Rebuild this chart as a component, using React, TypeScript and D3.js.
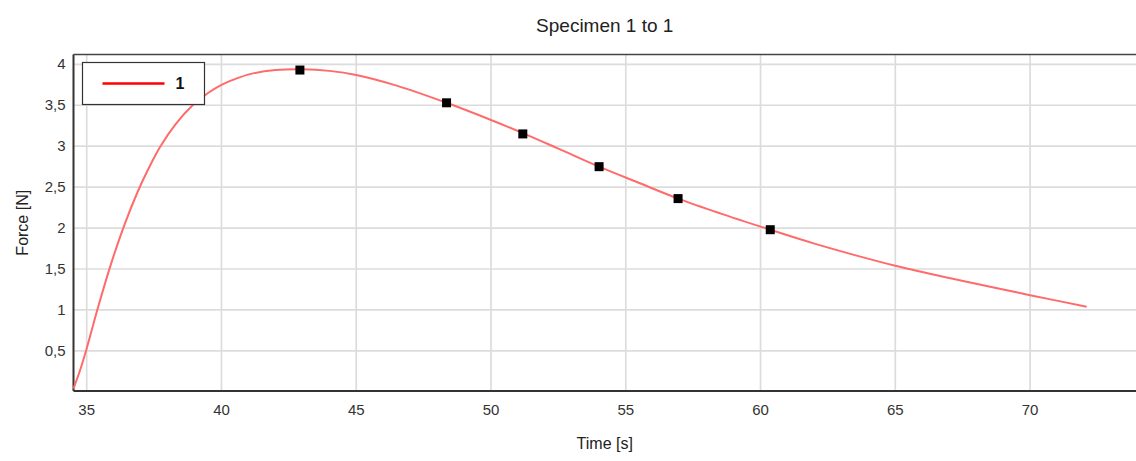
import { useEffect, useRef } from "react";
import * as d3 from "d3";

// measured series (time in s, force in N)
const timeValues = [
  34.51, 34.75, 35.0, 35.41, 35.9, 36.4, 36.9, 37.3, 37.72, 38.3, 38.93, 39.5,
  40.0, 40.5, 41.06, 42.0, 43.0, 44.0, 45.0, 46.5, 48.35, 50.0, 51.18, 52.5,
  54.01, 55.5, 56.94, 58.5, 60.36, 62.0, 63.5, 65.0, 67.0, 69.0, 70.0, 72.1,
];
const forceValues = [
  0.04, 0.26, 0.53, 1.02, 1.56, 2.04, 2.45, 2.73, 2.99, 3.27, 3.5, 3.65,
  3.75, 3.82, 3.88, 3.93, 3.94, 3.92, 3.87, 3.74, 3.53, 3.32, 3.16, 2.97,
  2.75, 2.55, 2.36, 2.18, 1.98, 1.81, 1.67, 1.54, 1.39, 1.25, 1.18, 1.04,
];

// black square markers
const markerTimes = [42.91, 48.35, 51.18, 54.01, 56.94, 60.36];
const markerForces = [3.93, 3.53, 3.15, 2.75, 2.36, 1.98];

const xTicks = [35, 40, 45, 50, 55, 60, 65, 70];
const yTicks = [0.5, 1, 1.5, 2, 2.5, 3, 3.5, 4];
const seriesName = "1";

export default function App() {
  const ref = useRef<SVGSVGElement>(null);

  const width = 1136;
  const height = 461;
  const margin = { top: 54.5, right: 0, bottom: 70, left: 73.5 };
  const innerWidth = width - margin.left - margin.right;
  const innerHeight = height - margin.top - margin.bottom;

  useEffect(() => {
    const svg = d3.select(ref.current);
    svg.selectAll("*").remove();

    const font = "'Liberation Sans', Arial, sans-serif";

    const x = d3.scaleLinear().domain([34.51, 73.93]).range([0, innerWidth]);
    const y = d3.scaleLinear().domain([0.01, 4.12]).range([innerHeight, 0]);

    const g = svg.append("g").attr("transform", `translate(${margin.left}, ${margin.top})`);

    // grid
    g.append("g")
      .selectAll("line")
      .data(xTicks)
      .join("line")
      .attr("x1", d => x(d))
      .attr("x2", d => x(d))
      .attr("y1", 0)
      .attr("y2", innerHeight)
      .attr("stroke", "#dcdcdc")
      .attr("stroke-width", 1.7);
    g.append("g")
      .selectAll("line")
      .data(yTicks)
      .join("line")
      .attr("x1", 0)
      .attr("x2", innerWidth)
      .attr("y1", d => y(d))
      .attr("y2", d => y(d))
      .attr("stroke", "#dcdcdc")
      .attr("stroke-width", 1.7);

    // frame
    g.append("line")
      .attr("x1", 0).attr("x2", innerWidth).attr("y1", 0).attr("y2", 0)
      .attr("stroke", "#444").attr("stroke-width", 1.5);
    g.append("line")
      .attr("x1", 0).attr("x2", innerWidth).attr("y1", innerHeight).attr("y2", innerHeight)
      .attr("stroke", "#333").attr("stroke-width", 2);
    g.append("line")
      .attr("x1", 0).attr("x2", 0).attr("y1", 0).attr("y2", innerHeight)
      .attr("stroke", "#333").attr("stroke-width", 2);

    // tick labels
    g.append("g")
      .selectAll("text")
      .data(xTicks)
      .join("text")
      .attr("x", d => x(d))
      .attr("y", innerHeight + 24)
      .attr("text-anchor", "middle")
      .style("font-family", font)
      .style("font-size", "15px")
      .attr("fill", "#333")
      .text(d => String(d));
    g.append("g")
      .selectAll("text")
      .data(yTicks)
      .join("text")
      .attr("x", -8)
      .attr("y", d => y(d) + 5)
      .attr("text-anchor", "end")
      .style("font-family", font)
      .style("font-size", "15px")
      .attr("fill", "#333")
      .text(d => String(d).replace(".", ","));

    // series line
    const data = timeValues.map((t, i) => ({ t, f: forceValues[i] }));
    const line = d3.line<{ t: number; f: number }>()
      .x(d => x(d.t))
      .y(d => y(d.f))
      .curve(d3.curveCatmullRom.alpha(0.5));
    g.append("path")
      .datum(data)
      .attr("d", line)
      .attr("fill", "none")
      .attr("stroke", "#ff6b6b")
      .attr("stroke-width", 2);

    // markers
    const markers = markerTimes.map((t, i) => ({ t, f: markerForces[i] }));
    g.append("g")
      .selectAll("rect")
      .data(markers)
      .join("rect")
      .attr("x", d => x(d.t) - 4.5)
      .attr("y", d => y(d.f) - 4.5)
      .attr("width", 9)
      .attr("height", 9)
      .attr("fill", "#000");

    // legend
    const legend = g.append("g").attr("transform", "translate(9, 8)");
    legend.append("rect")
      .attr("width", 122)
      .attr("height", 42)
      .attr("fill", "#fff")
      .attr("stroke", "#333")
      .attr("stroke-width", 1.2);
    legend.append("line")
      .attr("x1", 20).attr("x2", 82).attr("y1", 21).attr("y2", 21)
      .attr("stroke", "#ff0000").attr("stroke-width", 2.5);
    legend.append("text")
      .attr("x", 93)
      .attr("y", 26.5)
      .style("font-family", font)
      .style("font-size", "16px")
      .style("font-weight", "bold")
      .attr("fill", "#111")
      .text(seriesName);

    // titles
    svg.append("text")
      .attr("x", margin.left + innerWidth / 2)
      .attr("y", 32)
      .attr("text-anchor", "middle")
      .style("font-family", font)
      .style("font-size", "19px")
      .attr("fill", "#222")
      .text("Specimen 1 to 1");
    svg.append("text")
      .attr("x", margin.left + innerWidth / 2)
      .attr("y", 449)
      .attr("text-anchor", "middle")
      .style("font-family", font)
      .style("font-size", "16px")
      .attr("fill", "#222")
      .text("Time [s]");
    svg.append("text")
      .attr("transform", `translate(28, ${margin.top + innerHeight / 2}) rotate(-90)`)
      .attr("text-anchor", "middle")
      .style("font-family", font)
      .style("font-size", "16px")
      .attr("fill", "#222")
      .text("Force [N]");
  }, []);

  return (
    <svg
      ref={ref}
      width={width}
      height={height}
      style={{ position: "absolute", left: 0, top: 0, background: "#fff" }}
    />
  );
}
